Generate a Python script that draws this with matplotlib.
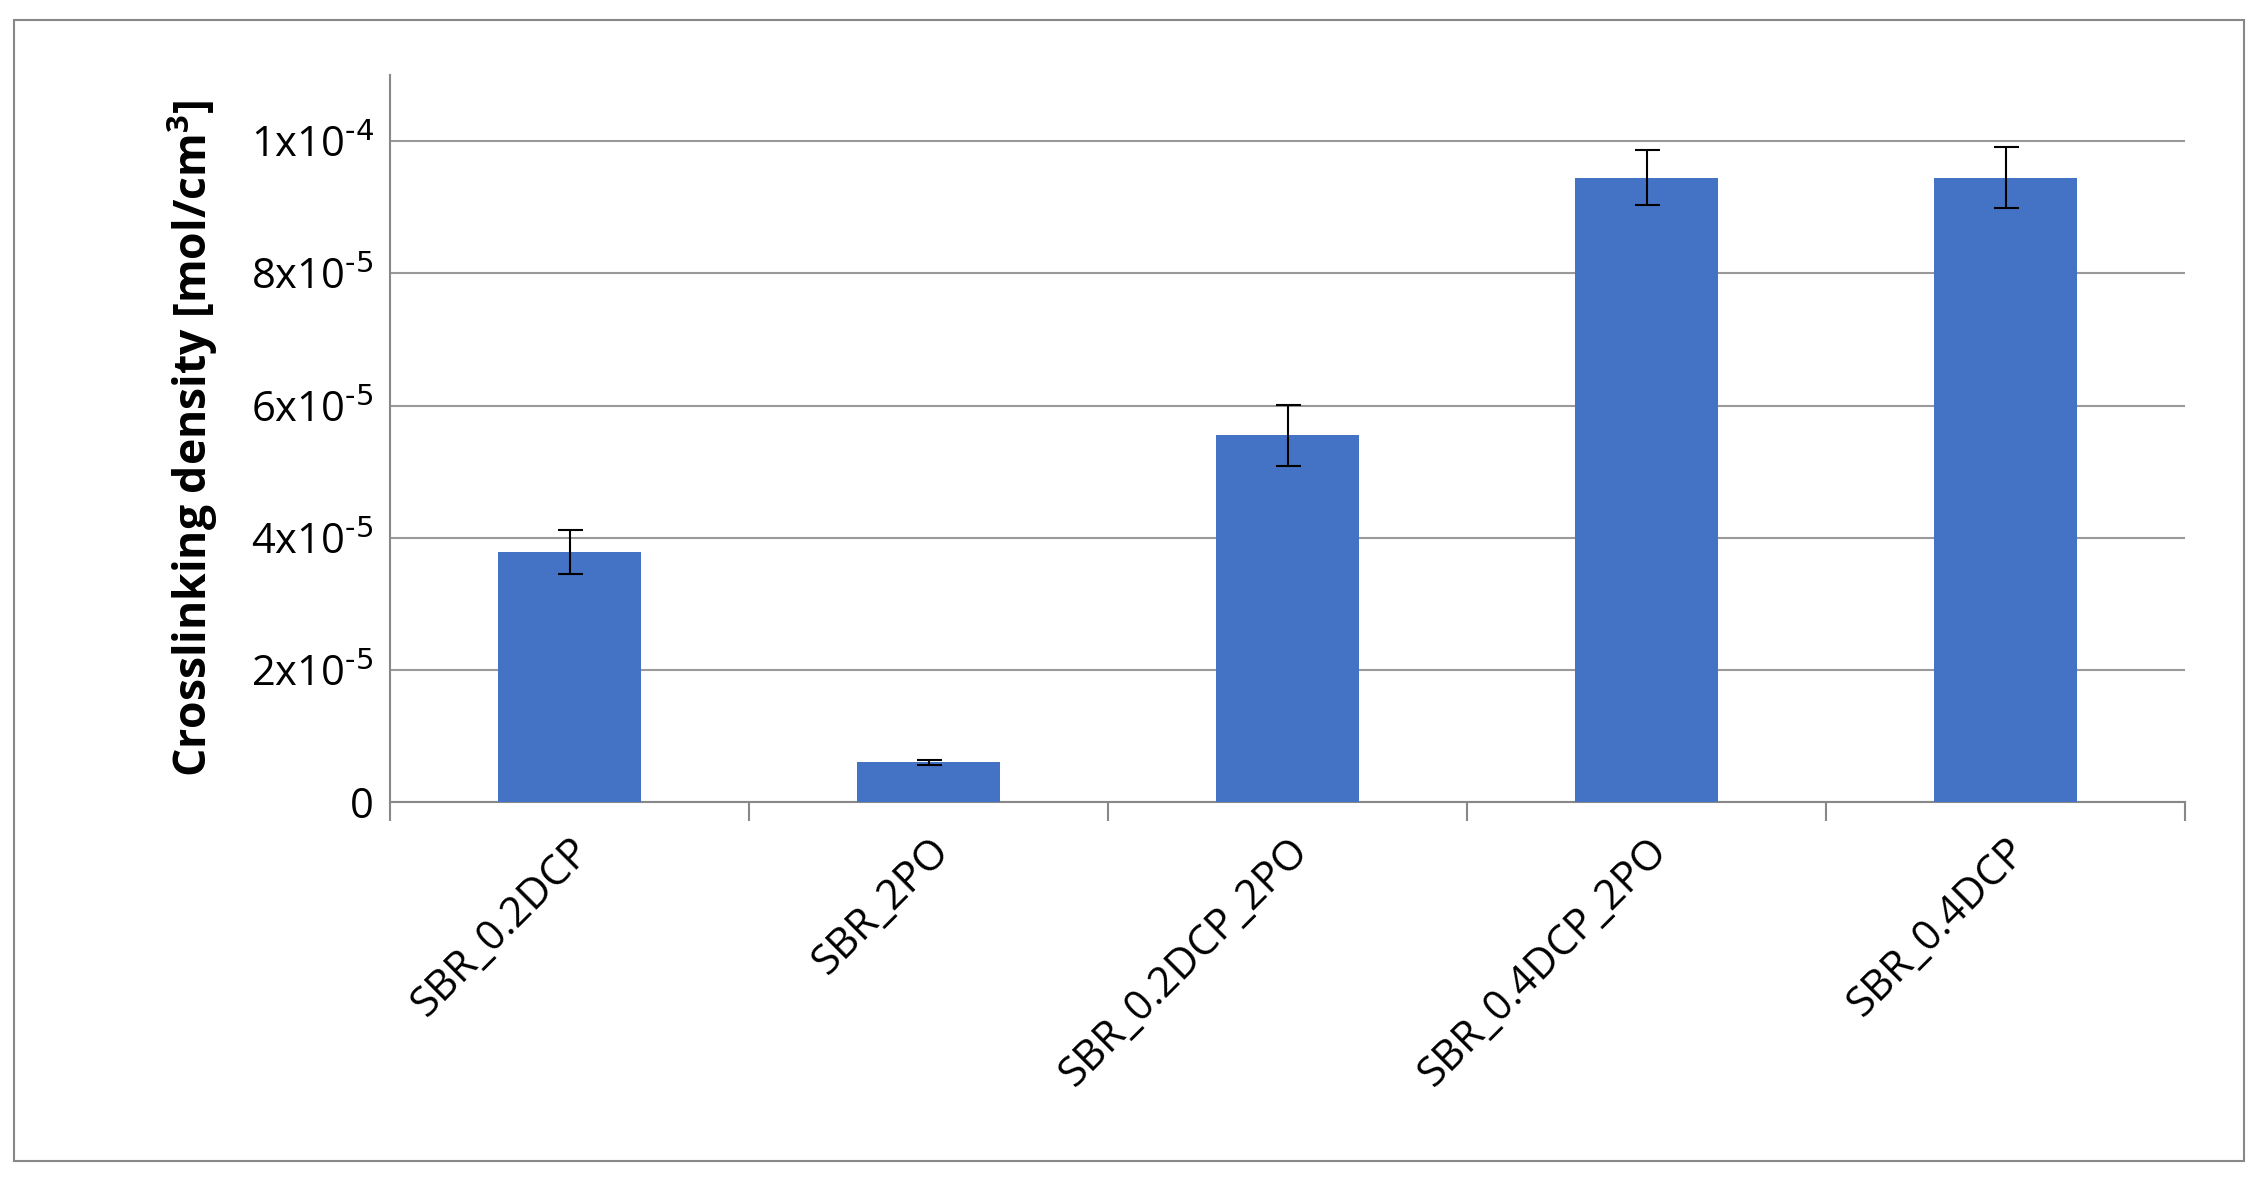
import matplotlib
matplotlib.use("Agg")
import matplotlib.pyplot as plt
from matplotlib.patches import Rectangle
import numpy as np

categories = ["SBR_0.2DCP", "SBR_2PO", "SBR_0.2DCP_2PO", "SBR_0.4DCP_2PO", "SBR_0.4DCP"]
values = [3.78e-5, 0.60e-5, 5.55e-5, 9.45e-5, 9.45e-5]
errors = [0.33e-5, 0.04e-5, 0.46e-5, 0.41e-5, 0.46e-5]
ytick_vals = [0, 2e-5, 4e-5, 6e-5, 8e-5, 1e-4]
ytick_labels = ["0", r"2x10$^{\text{-5}}$", r"4x10$^{\text{-5}}$", r"6x10$^{\text{-5}}$",
                r"8x10$^{\text{-5}}$", r"1x10$^{\text{-4}}$"]

plt.rcParams['font.family'] = ['Open Sans', 'DejaVu Sans']
plt.rcParams['mathtext.default'] = 'regular'
plt.rcParams['axes.unicode_minus'] = False
fig = plt.figure(figsize=(22.66, 11.88), dpi=100)
fig.patches.append(Rectangle((10/1568, 1-803/822), 1543/1568, 789/822, transform=fig.transFigure,
                             fill=False, edgecolor='#888888', lw=1.5))
ax = fig.add_axes([270/1568, 1-555/822, 1242/1568, 503/822])
x = np.arange(len(categories))
ax.bar(x, values, width=0.4, color='#4472C4', zorder=3)
ax.errorbar(x, values, yerr=errors, fmt='none', ecolor='black', elinewidth=1.5, capsize=9, capthick=1.5, zorder=4)
ax.set_xlim(-0.5, len(categories)-0.5)
ax.set_ylim(0, 1.1e-4)
ax.set_yticks(ytick_vals)
ax.set_yticklabels(ytick_labels, fontsize=30)
ax.yaxis.grid(True, color='#999999', lw=1.5, zorder=0)
ax.set_xticks(x)
ax.set_xticklabels(categories, rotation=45, ha='right', rotation_mode='anchor', fontsize=30)
ax.tick_params(axis='x', length=0, pad=20)
ax.set_xticks(np.arange(-0.5, len(categories)), minor=True)
ax.tick_params(axis='x', which='minor', length=14, width=1.5, color='#888888')
ax.tick_params(axis='y', length=0, pad=12)
for s in ['top', 'right']:
    ax.spines[s].set_visible(False)
ax.spines['left'].set_color('#888888'); ax.spines['left'].set_linewidth(1.5)
ax.spines['bottom'].set_color('#888888'); ax.spines['bottom'].set_linewidth(1.5)
ax.set_ylabel(r"Crosslinking density [mol/cm$^3$]", fontsize=32, fontweight='bold', labelpad=22)
fig.savefig("out.png", dpi=100)
